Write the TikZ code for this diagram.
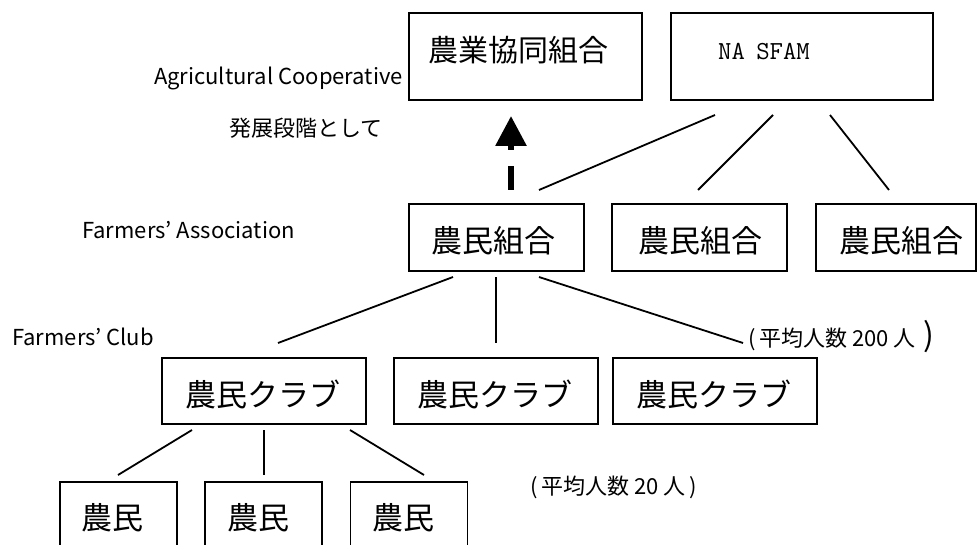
\documentclass[tikz,border=0pt]{standalone}
\usepackage{fontspec}
\setmainfont{Noto Sans CJK JP}
\usetikzlibrary{arrows.meta}
\begin{document}
\begin{tikzpicture}[x=1pt,y=-1pt,
  box/.style={draw, line width=1.6pt, inner sep=0pt, rectangle},
  jp/.style={inner sep=0pt, font=\fontsize{31}{31}\selectfont},
  lbl/.style={inner sep=0pt, font=\fontsize{22}{22}\selectfont},
  conn/.style={line width=1.8pt}]
\useasboundingbox (0,0) rectangle (979,545);
\clip (0,0) rectangle (979,545);
% top row
\node[box, minimum width=233pt, minimum height=87pt] (coop) at (525.5,56.5) {};
\node[jp, font=\fontsize{30}{30}\selectfont] (coopT) at (518,50) {農業協同組合};
\node[box, minimum width=262pt, minimum height=87pt] (nasfam) at (802,56.5) {};
\node[inner sep=0pt, font=\ttfamily\fontsize{26}{26}\selectfont] (nasfamT) at (764,52) {NA\kern-2pt\ SFAM};
% association row
\node[box, minimum width=175pt, minimum height=67pt] (fa1) at (496.5,237.5) {};
\node[box, minimum width=175pt, minimum height=67pt] (fa2) at (699.5,237.5) {};
\node[box, minimum width=160pt, minimum height=67pt] (fa3) at (896,237.5) {};
\node[jp] (fa1T) at (493,241) {農民組合};
\node[jp] (fa2T) at (700,241) {農民組合};
\node[jp] (fa3T) at (901,241) {農民組合};
% club row
\node[box, minimum width=204pt, minimum height=66pt] (fc1) at (264,391) {};
\node[box, minimum width=204pt, minimum height=66pt] (fc2) at (496,391) {};
\node[box, minimum width=204pt, minimum height=66pt] (fc3) at (715,391) {};
\node[jp] (fc1T) at (263,394) {農民クラブ};
\node[jp] (fc2T) at (495,394) {農民クラブ};
\node[jp] (fc3T) at (714,394) {農民クラブ};
% farmers row
\node[box, minimum width=117pt, minimum height=80pt] (f1) at (118.5,522) {};
\node[box, minimum width=117pt, minimum height=80pt] (f2) at (263.5,522) {};
\node[box, minimum width=117pt, minimum height=80pt] (f3) at (409,522) {};
\node[jp] (f1T) at (112,518) {農民};
\node[jp] (f2T) at (258,518) {農民};
\node[jp] (f3T) at (403,518) {農民};
% labels
\node[lbl, anchor=east] (lAC) at (403,78) {Agricultural Cooperative};
\node[lbl] (lDev) at (306,128) {発展段階として};
\node[lbl, anchor=west] (lFA) at (82,230) {Farmers’ Association};
\node[lbl, anchor=west] (lFC) at (12,337) {Farmers’ Club};
\node[lbl, anchor=west] (l200) at (748,337) {(\,平均人数 200 人\,\,{\fontsize{32}{32}\selectfont )}};
\node[lbl, anchor=west] (l20) at (530,487) {(\,平均人数 20 人\,)};
% connector end points
\coordinate (n1) at (715,115); \coordinate (n1e) at (539,190);
\coordinate (n2) at (773,115); \coordinate (n2e) at (698,190);
\coordinate (n3) at (830,115); \coordinate (n3e) at (889,190);
\coordinate (a1) at (453,277); \coordinate (a1e) at (278,343);
\coordinate (a2) at (496,277); \coordinate (a2e) at (496,343);
\coordinate (a3) at (539,277); \coordinate (a3e) at (743,343);
\coordinate (c1) at (192,430); \coordinate (c1e) at (118,475);
\coordinate (c2) at (264,430); \coordinate (c2e) at (264,475);
\coordinate (c3) at (350,430); \coordinate (c3e) at (424,475);
\coordinate (arS) at (511,190); \coordinate (arE) at (511,116);
\draw[conn] (n1) -- (n1e);
\draw[conn] (n2) -- (n2e);
\draw[conn] (n3) -- (n3e);
\draw[conn] (a1) -- (a1e);
\draw[conn] (a2) -- (a2e);
\draw[conn] (a3) -- (a3e);
\draw[conn] (c1) -- (c1e);
\draw[conn] (c2) -- (c2e);
\draw[conn] (c3) -- (c3e);
\draw[line width=6pt, dash pattern=on 24pt off 16pt, -{Triangle[width=30pt,length=30pt]}] (arS) -- (arE);
\end{tikzpicture}
\end{document}
